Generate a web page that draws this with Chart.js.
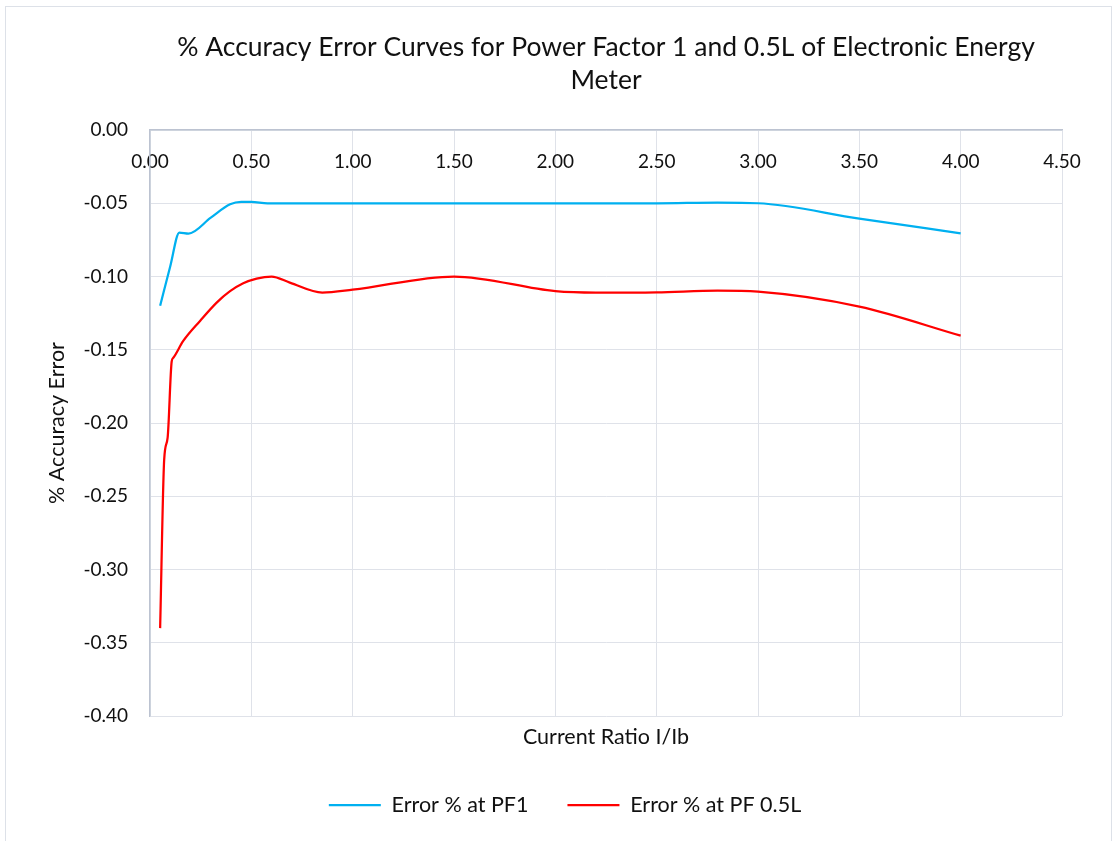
<!DOCTYPE html>
<html>
<head>
<meta charset="utf-8">
<title>% Accuracy Error Curves</title>
<script src="https://cdn.jsdelivr.net/npm/chart.js@4/dist/chart.umd.min.js"></script>
<style>
  body { margin: 0; background: #fff; }
  #wrap { position: relative; width: 1114px; height: 841px; }
  #frame {
    position: absolute; left: 5px; top: 6px; width: 1105px; height: 850px;
    border: 1px solid #dde1e8; pointer-events: none;
  }
</style>
</head>
<body>
<div id="wrap">
  <canvas id="myChart" width="1114" height="841"></canvas>
  <div id="frame"></div>
</div>
<script>
// current ratio I/Ib and % error readings, PF 1
const pf1Ratio = [0.05, 0.1, 0.145, 0.19, 0.3, 0.395, 0.45, 0.5, 0.58, 1.0, 1.5, 2.0, 2.5, 2.8, 3.0, 3.5, 4.0];
const pf1Error = [-0.12, -0.093, -0.07, -0.0707, -0.0598, -0.0507, -0.049, -0.049, -0.05, -0.05, -0.05, -0.05, -0.05, -0.0496, -0.05, -0.0605, -0.0705];

// PF 0.5 lagging
const pf05Ratio = [0.05, 0.07, 0.087, 0.107, 0.115, 0.164, 0.247, 0.329, 0.395, 0.46, 0.526, 0.6, 0.69, 0.85, 1.0, 1.5, 2.0, 2.2, 2.5, 2.8, 3.0, 3.5, 4.0];
const pf05Error = [-0.34, -0.225, -0.21, -0.158, -0.1555, -0.144, -0.1303, -0.1178, -0.11, -0.1046, -0.1014, -0.10, -0.1042, -0.111, -0.109, -0.10, -0.11, -0.111, -0.1108, -0.1097, -0.1104, -0.1206, -0.1404];

const xTicks = [0, 0.5, 1, 1.5, 2, 2.5, 3, 3.5, 4, 4.5];
const yTicks = [0, -0.05, -0.1, -0.15, -0.2, -0.25, -0.3, -0.35, -0.4];

const toPoints = (xs, ys) => xs.map((x, i) => ({ x: x, y: ys[i] }));

const font = 'Lato, "Open Sans", sans-serif';
const gridColor = '#dfe2e9';
const axisColor = '#bcc3d1';

const ctx = document.getElementById('myChart').getContext('2d');

const myChart = new Chart(ctx, {
    type: 'line',
    data: {
        datasets: [
            {
                label: 'Error % at PF1',
                data: toPoints(pf1Ratio, pf1Error),
                borderColor: '#00b0f0',
                backgroundColor: '#00b0f0',
                borderWidth: 2.25,
                pointRadius: 0,
                cubicInterpolationMode: 'monotone',
                fill: false
            },
            {
                label: 'Error % at PF 0.5L',
                data: toPoints(pf05Ratio, pf05Error),
                borderColor: '#ff0000',
                backgroundColor: '#ff0000',
                borderWidth: 2.25,
                pointRadius: 0,
                cubicInterpolationMode: 'monotone',
                fill: false
            }
        ]
    },
    options: {
        responsive: false,
        animation: false,
        layout: {
            padding: { left: 68, right: 52, top: 14, bottom: 15.25 }
        },
        plugins: {
            title: {
                display: true,
                fullSize: false,
                text: ['% Accuracy Error Curves for Power Factor 1 and 0.5L of Electronic Energy', 'Meter'],
                color: '#111',
                font: { family: font, size: 26.5, weight: 'normal', lineHeight: 1.28 },
                padding: { top: 16, bottom: 10 }
            },
            legend: {
                position: 'bottom',
                labels: {
                    usePointStyle: true,
                    pointStyle: 'line',
                    pointStyleWidth: 52,
                    color: '#111',
                    padding: 39,
                    font: { family: font, size: 21.5 }
                }
            },
            tooltip: { enabled: false }
        },
        scales: {
            x: {
                type: 'linear',
                position: 'top',
                min: 0,
                max: 4.5,
                afterFit: s => { s.height = 22.16; },
                afterBuildTicks: s => { s.ticks = xTicks.map(v => ({ value: v })); },
                grid: { color: gridColor, drawTicks: false },
                border: { color: axisColor, width: 1.5 },
                ticks: {
                    mirror: true,
                    padding: 20,
                    color: '#111',
                    font: { family: font, size: 19 },
                    maxRotation: 0,
                    callback: v => v.toFixed(2)
                }
            },
            xTitle: {
                type: 'linear',
                position: 'bottom',
                axis: 'x',
                min: 0,
                max: 4.5,
                afterFit: s => { s.height = 39.25; },
                grid: { display: false, drawTicks: false },
                border: { display: false },
                ticks: { display: false },
                title: {
                    display: true,
                    text: 'Current Ratio I/Ib',
                    color: '#111',
                    padding: { top: 0, bottom: 5.35 },
                    font: { family: font, size: 21.5 }
                }
            },
            y: {
                min: -0.4,
                max: 0,
                afterFit: s => { s.width = 82; },
                afterBuildTicks: s => { s.ticks = yTicks.map(v => ({ value: v })); },
                grid: { color: gridColor, drawTicks: false },
                border: { color: axisColor, width: 1.5 },
                ticks: {
                    padding: 22,
                    color: '#111',
                    font: { family: font, size: 19 },
                    callback: v => v.toFixed(2)
                },
                title: {
                    display: true,
                    text: '% Accuracy Error',
                    color: '#111',
                    padding: { top: -24, bottom: 0 },
                    font: { family: font, size: 21.5 }
                }
            }
        }
    }
});
</script>
</body>
</html>
